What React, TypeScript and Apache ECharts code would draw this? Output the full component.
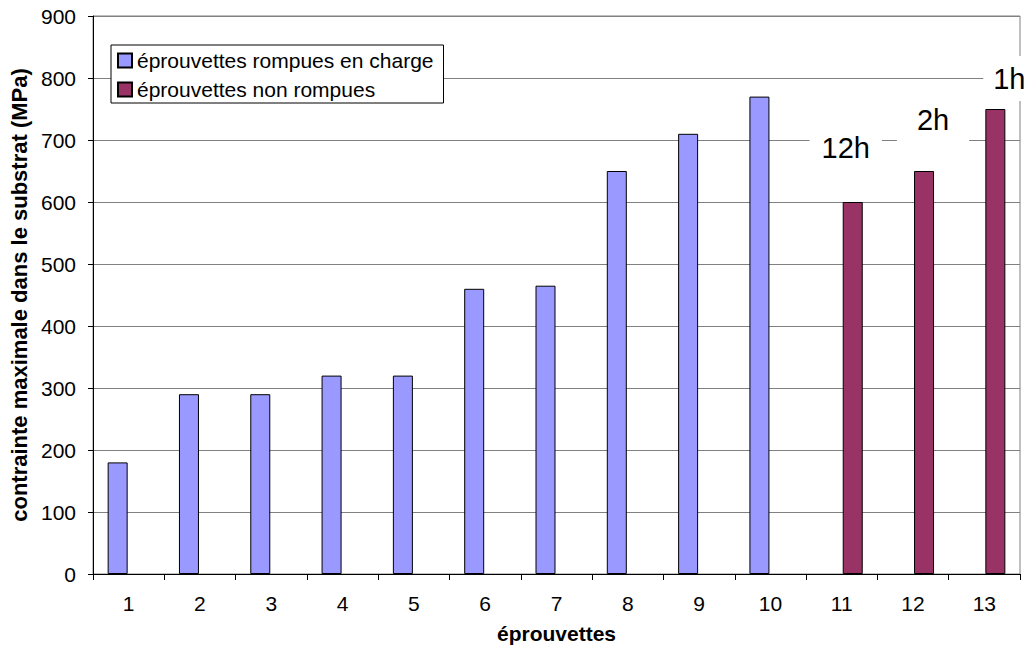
import React, { useEffect, useRef } from "react";
import * as echarts from "echarts";

const categories = ["1", "2", "3", "4", "5", "6", "7", "8", "9", "10", "11", "12", "13"];
const rompues = [180, 290, 290, 320, 320, 460, 465, 650, 710, 770, null, null, null];
const nonRompues = [null, null, null, null, null, null, null, null, null, null, 600, 650, 750];
const durees = ["", "", "", "", "", "", "", "", "", "", "12h", "2h", "1h"];
const labelOffsets: Record<string, number[]> = { "12h": [-7, -27], "2h": [9, -24], "1h": [14, -3] };
const labelPadding: Record<string, number[]> = { "12h": [8, 12, 8, 12], "2h": [8, 20, 8, 20], "1h": [8, 10, 8, 10] };

export default function App() {
  const ref = useRef<HTMLDivElement>(null);
  useEffect(() => {
    if (!ref.current) return;
    const chart = echarts.init(ref.current, null, { renderer: "svg" });
    const font = "Liberation Sans, Arial, sans-serif";
    chart.setOption({
      animation: false,
      textStyle: { fontFamily: font, color: "#000" },
      grid: {
        left: 93,
        right: 11,
        top: 16,
        bottom: 88,
        show: true,
        borderColor: "#808080",
        borderWidth: 1,
      },
      legend: {
        left: 111,
        top: 45,
        orient: "vertical",
        padding: [5, 10, 3, 6],
        itemGap: 8,
        itemWidth: 14,
        itemHeight: 14,
        borderColor: "#000",
        borderWidth: 1,
        backgroundColor: "#fff",
        icon: "rect",
        textStyle: { fontSize: 21, fontFamily: font, color: "#000" },
        data: ["éprouvettes rompues en charge", "éprouvettes non rompues"],
      },
      xAxis: {
        type: "category",
        data: categories,
        name: "éprouvettes",
        nameLocation: "middle",
        nameGap: 49,
        nameTextStyle: { fontWeight: "bold", fontSize: 21, fontFamily: font, color: "#000" },
        axisLine: { lineStyle: { color: "#000" } },
        axisTick: { show: true, alignWithLabel: false, length: 6, lineStyle: { color: "#000" } },
        axisLabel: { fontSize: 21, color: "#000", margin: 19, fontFamily: font },
      },
      yAxis: {
        type: "value",
        min: 0,
        max: 900,
        interval: 100,
        name: "contrainte maximale dans le substrat (MPa)",
        nameLocation: "middle",
        nameGap: 60,
        nameTextStyle: { fontWeight: "bold", fontSize: 22, fontFamily: font, color: "#000" },
        axisLine: { show: true, lineStyle: { color: "#000" } },
        axisTick: { show: true, length: 5, lineStyle: { color: "#000" } },
        axisLabel: { fontSize: 21, color: "#000", margin: 17, fontFamily: font },
        splitLine: { lineStyle: { color: "#808080", width: 1 } },
      },
      series: [
        {
          name: "éprouvettes rompues en charge",
          type: "bar",
          data: rompues,
          barWidth: 20,
          barGap: "10%",
          itemStyle: { color: "#9999FF", borderColor: "#000", borderWidth: 1 },
        },
        {
          name: "éprouvettes non rompues",
          type: "bar",
          data: nonRompues.map((v, i) => ({
            value: v,
            label: durees[i]
              ? {
                  show: true,
                  position: "top",
                  formatter: durees[i],
                  offset: labelOffsets[durees[i]],
                  fontSize: 29,
                  fontFamily: font,
                  color: "#000",
                  backgroundColor: "#fff",
                  padding: labelPadding[durees[i]],
                }
              : { show: false },
          })),
          barWidth: 20,
          barGap: "10%",
          itemStyle: { color: "#993366", borderColor: "#000", borderWidth: 1 },
        },
      ],
    });
    return () => chart.dispose();
  }, []);
  return (
    <div
      ref={ref}
      style={{ position: "fixed", left: 0, top: 0, width: 1031, height: 662, background: "#fff" }}
    />
  );
}
